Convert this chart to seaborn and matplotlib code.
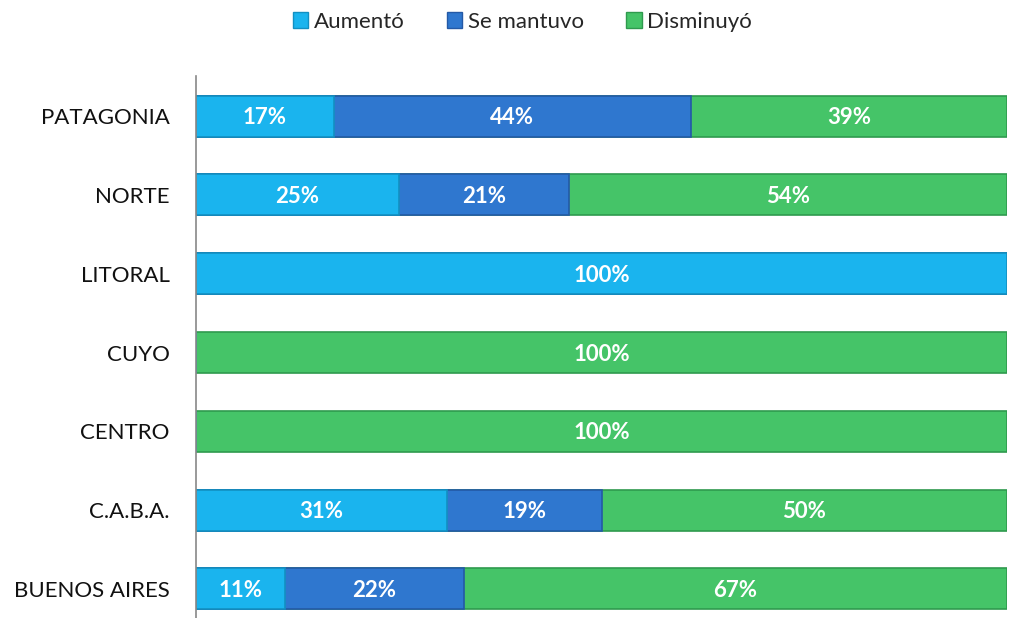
import numpy as np
import pandas as pd
import matplotlib
matplotlib.use("Agg")
import matplotlib.pyplot as plt
import seaborn as sns
from matplotlib.patches import Patch

regiones = ["PATAGONIA", "NORTE", "LITORAL", "CUYO", "CENTRO", "C.A.B.A.", "BUENOS AIRES"]
aumento = [17, 25, 100, 0, 0, 31, 11]
se_mantuvo = [44, 21, 0, 0, 0, 19, 22]
disminuyo = [39, 54, 0, 100, 100, 50, 67]
series = ["Aumentó", "Se mantuvo", "Disminuyó"]
colores = ["#1AB4EE", "#2F77CF", "#45C468"]
bordes = ["#1290C2", "#2459A6", "#2F9A4E"]

df = pd.DataFrame({"region": regiones, "Aumentó": aumento,
                   "Se mantuvo": se_mantuvo, "Disminuyó": disminuyo})
df["c1"] = df["Aumentó"]
df["c2"] = df["c1"] + df["Se mantuvo"]
df["c3"] = df["c2"] + df["Disminuyó"]

sns.set_style("white")
plt.rcParams["font.family"] = ["Lato", "DejaVu Sans"]

fig = plt.figure(figsize=(10.14, 6.18), dpi=100)
ax = fig.add_axes([196 / 1014, 0.0, 811 / 1014, 542 / 618])

# stacked bars: draw cumulative totals from the longest down
for col, c, e in zip(["c3", "c2", "c1"], colores[::-1], bordes[::-1]):
    sns.barplot(data=df, x=col, y="region", order=regiones, color=c,
                width=0.52, orient="h", ax=ax, edgecolor=e, linewidth=1.2,
                saturation=1)

# white bold percentage labels
for i, r in df.iterrows():
    izq = 0
    for s in series:
        v = r[s]
        if v > 0:
            ax.text(izq + v / 2, i + 0.02, f"{v}%", ha="center", va="center",
                    color="white", fontsize=16, fontweight="bold")
        izq += v

ax.set_xlim(0, 100)
ax.set_ylim(6.37, -0.51)
ax.set_xlabel("")
ax.set_ylabel("")
ax.set_xticks([])
ax.tick_params(axis="y", length=0, pad=19, labelsize=16)
for lab in ax.get_yticklabels():
    lab.set_color("#111111")
for sp in ["top", "right", "bottom"]:
    ax.spines[sp].set_visible(False)
ax.spines["left"].set_color("#888888")
ax.spines["left"].set_linewidth(1.2)

handles = [Patch(facecolor=c, edgecolor=e, label=s)
           for s, c, e in zip(series, colores, bordes)]
fig.legend(handles=handles, loc="center", bbox_to_anchor=(0.515, 1 - 22 / 618),
           ncol=3, frameon=False, fontsize=16, handlelength=0.7,
           handleheight=0.7, handletextpad=0.25, columnspacing=1.9)

fig.savefig("out.png", dpi=100)
